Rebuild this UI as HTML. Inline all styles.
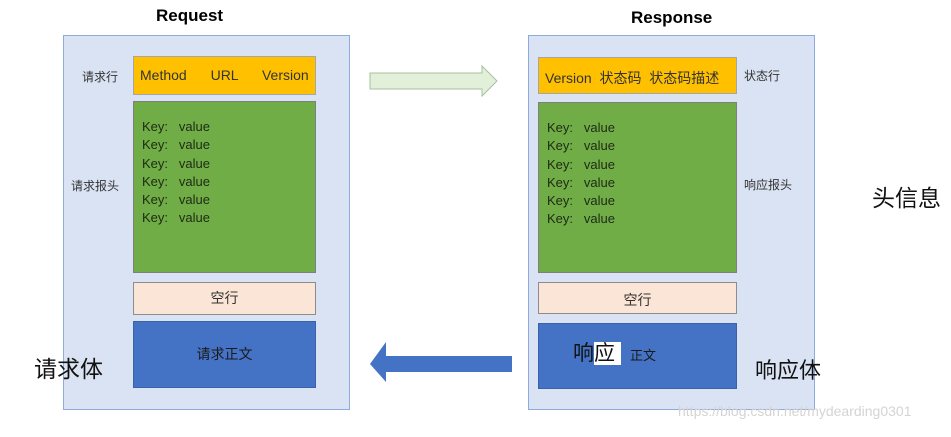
<!DOCTYPE html>
<html><head><meta charset="utf-8"><style>
body{margin:0;width:951px;height:437px;background:#fff;position:relative;overflow:hidden;font-family:"Liberation Sans","Noto Sans CJK SC",sans-serif;}
div{position:absolute;box-sizing:border-box;}
.panel{background:#dae3f3;border:1px solid #8faadc;}
.or{background:#ffc000;border:1px solid #a6a6a6;font-size:14px;color:#333;}
.gr{background:#70ad47;border:1px solid #7f7f7f;font-size:13px;color:#1e2a14;line-height:18.3px;padding:16px 0 0 8px;}
.pe{background:#fbe5d6;border:1px solid #8c8c8c;font-size:14px;color:#333;text-align:center;}
.bl{background:#4472c4;border:1px solid #3a62a8;font-size:14px;color:#1a1a1a;}
.lab{font-size:12px;color:#333;}
</style></head><body>
<div style="left:156px;top:6px;font-weight:bold;font-size:17px;">Request</div>
<div style="left:631px;top:8px;font-weight:bold;font-size:17px;">Response</div>

<div class="panel" style="left:63px;top:35px;width:287px;height:375px;"></div>
<div class="lab" style="left:82px;top:68px;">请求行</div>
<div class="lab" style="left:71px;top:177px;">请求报头</div>
<div class="or" style="left:133px;top:56px;width:183px;height:39px;line-height:37px;padding-left:6px;word-spacing:20px;">Method URL Version</div>
<div class="gr" style="left:133px;top:101px;width:183px;height:172px;">Key:&nbsp;&nbsp; value<br>Key:&nbsp;&nbsp; value<br>Key:&nbsp;&nbsp; value<br>Key:&nbsp;&nbsp; value<br>Key:&nbsp;&nbsp; value<br>Key:&nbsp;&nbsp; value</div>
<div class="pe" style="left:133px;top:282px;width:183px;height:33px;line-height:31px;">空行</div>
<div class="bl" style="left:133px;top:321px;width:183px;height:67px;line-height:65px;text-align:center;">请求正文</div>
<div style="left:34px;top:350px;font-size:23px;color:#111;">请求体</div>

<div class="panel" style="left:528px;top:35px;width:287px;height:375px;"></div>
<div class="or" style="left:538px;top:57px;width:199px;height:37px;line-height:40px;padding-left:6px;">Version&nbsp; 状态码&nbsp; 状态码描述</div>
<div class="lab" style="left:744px;top:67px;">状态行</div>
<div class="lab" style="left:744px;top:176px;">响应报头</div>
<div class="gr" style="left:538px;top:102px;width:199px;height:171px;">Key:&nbsp;&nbsp; value<br>Key:&nbsp;&nbsp; value<br>Key:&nbsp;&nbsp; value<br>Key:&nbsp;&nbsp; value<br>Key:&nbsp;&nbsp; value<br>Key:&nbsp;&nbsp; value</div>
<div class="pe" style="left:538px;top:282px;width:199px;height:32px;line-height:34px;">空行</div>
<div class="bl" style="left:538px;top:323px;width:199px;height:66px;"></div>
<div style="left:573px;top:341px;font-size:21px;color:#111;line-height:26px;">响<span style="background:#fff">应&nbsp;</span></div>
<div style="left:630px;top:345px;font-size:13px;color:#1a1a1a;">正文</div>
<div style="left:755px;top:353px;font-size:22px;color:#111;">响应体</div>
<div style="left:872px;top:179px;font-size:23px;color:#111;">头信息</div>

<svg style="position:absolute;left:0;top:0" width="951" height="437">
<polygon points="370,73 482,73 482,66 497,81 482,96 482,89 370,89" fill="#e2f0d9" stroke="#a9bfa0" stroke-width="1"/>
<polygon points="512,356 386,356 386,342 370,364 386,382 386,372 512,372" fill="#4472c4"/>
</svg>
<div style="left:678px;top:403px;font-size:14px;color:#d4d4d4;">https://blog.csdn.net/mydearding0301</div>
</body></html>
